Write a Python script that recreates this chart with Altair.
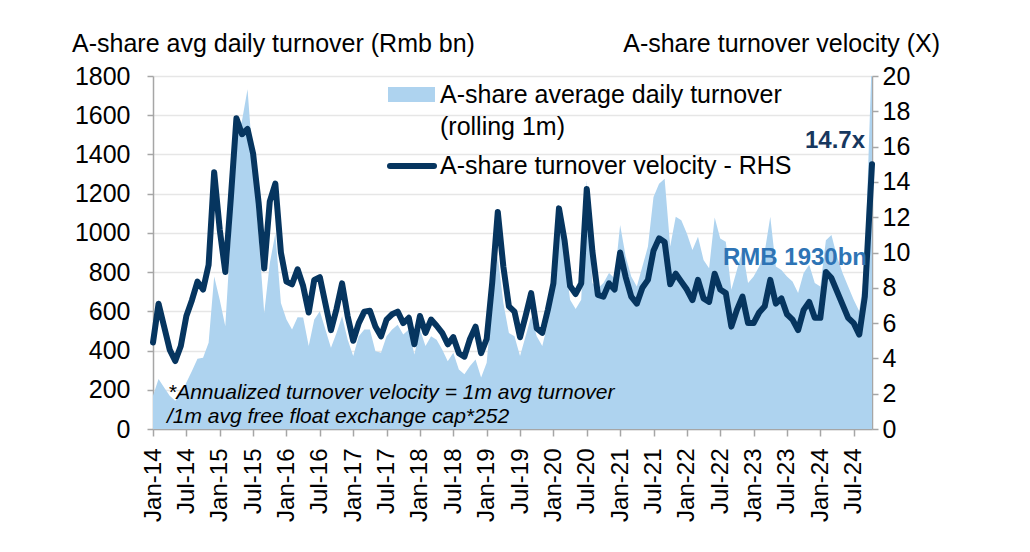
import altair as alt
import pandas as pd

# ---------------- data ----------------
months = [f"{2014 + i // 12}-{i % 12 + 1:02d}-01" for i in range(129)] + ["2024-10-10"]

turnover = [170, 255, 211, 169, 144, 177, 237, 296, 358, 363,
            440, 777, 659, 524, 1000, 1496, 1572, 1733, 1352, 980,
            592, 845, 997, 642, 558, 507, 570, 568, 423, 558,
            600, 507, 414, 490, 575, 456, 372, 473, 507, 507,
            397, 389, 473, 507, 532, 482, 507, 380, 507, 423,
            473, 455, 406, 346, 389, 304, 279, 321, 355, 262,
            338, 650, 879, 642, 490, 473, 372, 473, 575, 473,
            423, 541, 710, 1082, 879, 659, 612, 659, 1268, 744,
            718, 744, 795, 769, 1040, 879, 777, 727, 828, 930,
            1183, 1251, 1276, 930, 1082, 1065, 997, 913, 980, 862,
            820, 1078, 972, 955, 710, 811, 913, 744, 777, 828,
            904, 1082, 828, 811, 777, 752, 693, 795, 837, 744,
            727, 963, 989, 879, 795, 727, 659, 600, 820, 1930]

velocity = [4.9, 7.1, 5.8, 4.5, 3.85, 4.7, 6.4, 7.3, 8.35, 7.9,
            9.3, 14.55, 11.3, 8.9, 13.1, 17.6, 16.7, 17.0, 15.6, 12.8,
            9.1, 12.9, 13.9, 10.0, 8.35, 8.2, 9.05, 8.1, 6.6, 8.45,
            8.6, 7.1, 5.6, 6.8, 8.25, 6.4, 5.0, 6.0, 6.65, 6.7,
            5.8, 5.25, 6.2, 6.5, 6.65, 6.0, 6.3, 4.8, 6.4, 5.45,
            6.2, 5.85, 5.45, 4.8, 5.2, 4.3, 4.1, 5.1, 5.8, 4.3,
            5.1, 8.3, 12.3, 9.2, 6.95, 6.65, 5.2, 6.4, 7.7, 5.7,
            5.45, 6.75, 8.25, 12.5, 10.7, 8.1, 7.65, 8.25, 13.6, 10.1,
            7.6, 7.5, 8.25, 7.9, 10.0, 8.6, 7.5, 7.1, 8.0, 8.45,
            10.1, 10.8, 10.6, 8.2, 8.8, 8.35, 7.9, 7.3, 8.45, 7.4,
            7.2, 8.8, 7.9, 7.7, 5.8, 6.75, 7.5, 6.0, 6.0, 6.6,
            6.95, 8.45, 7.1, 7.4, 6.5, 6.2, 5.6, 6.75, 7.2, 6.3,
            6.3, 8.9, 8.55, 7.8, 7.05, 6.3, 6.0, 5.35, 7.5, 15.0]

tick_labels = ["Jan-14", "Jul-14", "Jan-15", "Jul-15", "Jan-16", "Jul-16",
               "Jan-17", "Jul-17", "Jan-18", "Jul-18", "Jan-19", "Jul-19",
               "Jan-20", "Jul-20", "Jan-21", "Jul-21", "Jan-22", "Jul-22",
               "Jan-23", "Jul-23", "Jan-24", "Jul-24"]
left_ticks = [0, 200, 400, 600, 800, 1000, 1200, 1400, 1600, 1800]
right_ticks = [0, 2, 4, 6, 8, 10, 12, 14, 16, 18, 20]


def month_index(s):
    y, m, d = map(int, s.split("-"))
    return (y - 2014) * 12 + (m - 1) + (d - 1) / 31


df = pd.DataFrame({"t": [month_index(s) for s in months],
                   "turnover": turnover, "velocity": velocity})

FONT = "Liberation Sans"
AREA = "#AED3EF"
NAVY = "#06355F"
W, H = 719, 353
FS = 25

x_scale = alt.Scale(domain=[0, float(df.t.max())], nice=False, zero=False)
label_arr = "[" + ",".join(f"'{s}'" for s in tick_labels) + "]"
x_axis = alt.Axis(values=list(range(0, 127, 6)),
                  labelExpr=f"{label_arr}[round(datum.value/6)]",
                  labelAngle=270, labelFontSize=24, labelFont=FONT,
                  labelColor="black", labelOverlap=False, labelPadding=12,
                  tickSize=7, grid=False, title=None,
                  domainColor="#A6A6A6", tickColor="#A6A6A6",
                  domainWidth=1.5, tickWidth=1.5)

left_axis = alt.Axis(values=left_ticks, labelFontSize=FS, labelFont=FONT,
                     labelColor="black", labelPadding=17, tickSize=6,
                     grid=True, gridColor="#E6E6E6", gridWidth=1.5,
                     title=None, domainColor="#A6A6A6", tickColor="#A6A6A6",
                     domainWidth=1.5, tickWidth=1.5, format="d")

right_axis = alt.Axis(values=right_ticks, orient="right", labelFontSize=FS,
                      labelFont=FONT, labelColor="black", labelPadding=4,
                      tickSize=6, grid=False, title=None,
                      domainColor="#A6A6A6", tickColor="#A6A6A6",
                      domainWidth=1.5, tickWidth=1.5)

area = alt.Chart(df).mark_area(color=AREA, clip=True).encode(
    x=alt.X("t:Q", scale=x_scale, axis=x_axis),
    y=alt.Y("turnover:Q", scale=alt.Scale(domain=[0, 1800], nice=False), axis=left_axis),
)

line = alt.Chart(df).mark_line(color=NAVY, strokeWidth=6, strokeJoin="round",
                               strokeCap="round").encode(
    x=alt.X("t:Q", scale=x_scale, axis=x_axis),
    y=alt.Y("velocity:Q", scale=alt.Scale(domain=[0, 20], nice=False), axis=right_axis),
)

one = pd.DataFrame({"a": [0]})


def label(text, x, y, size=FS, align="left", weight="normal", style="normal",
          color="black", baseline="middle"):
    return alt.Chart(one).mark_text(
        text=text, font=FONT, fontSize=size, align=align, baseline=baseline,
        fontWeight=weight, fontStyle=style, color=color,
    ).encode(x=alt.value(x), y=alt.value(y))


texts = [
    label("A-share avg daily turnover (Rmb bn)", -81, -24, baseline="alphabetic"),
    label("A-share turnover velocity (X)", 787, -24, align="right", baseline="alphabetic"),
    label("A-share average daily turnover", 287, 19),
    label("(rolling 1m)", 287, 51),
    label("A-share turnover velocity - RHS", 287, 90),
    label("14.7x", 712, 65, size=24, align="right", weight="bold", color="#17375E"),
    label("RMB 1930bn", 714, 182, size=24, align="right", weight="bold", color="#2E74B5"),
    label("*Annualized turnover velocity = 1m avg turnover", 15, 317, size=21, style="italic"),
    label("/1m avg free float exchange cap*252", 14, 341, size=21, style="italic"),
]

swatch = alt.Chart(one).mark_rect(color=AREA).encode(
    x=alt.value(235), x2=alt.value(282), y=alt.value(11), y2=alt.value(26))
swatch_line = alt.Chart(one).mark_rule(color=NAVY, strokeWidth=6, strokeCap="round").encode(
    x=alt.value(237), x2=alt.value(281), y=alt.value(90))

chart = alt.layer(area, line, swatch, swatch_line, *texts).resolve_scale(
    y="independent"
).properties(
    width=W, height=H,
    autosize=alt.AutoSizeParams(type="none"),
    padding={"left": 153, "top": 76, "right": 158, "bottom": 123},
    background="white",
).configure_view(stroke=None)

chart.save("out.html", embed_options={"renderer": "svg", "actions": False})
